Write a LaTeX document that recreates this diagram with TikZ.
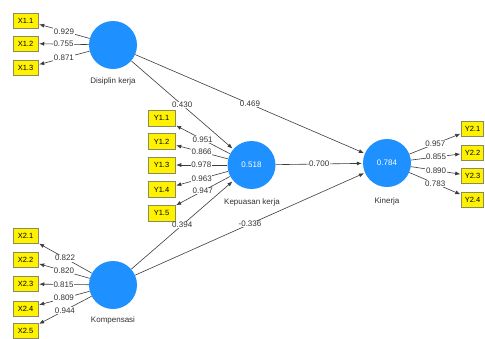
\documentclass[tikz,border=0pt]{standalone}
\usepackage{fontspec}
\setmainfont{Liberation Sans}
\usetikzlibrary{arrows.meta}
\definecolor{lvblue}{RGB}{30,144,255}
\definecolor{linegray}{RGB}{60,60,60}
\definecolor{boxborder}{RGB}{140,140,90}
\tikzset{
  lv/.style={circle,fill=lvblue,draw=none,minimum size=48pt,inner sep=0pt,text=white,font=\fontsize{8}{9}\selectfont},
  ind/.style={rectangle,fill=yellow,draw=boxborder,line width=0.5pt,minimum width=25pt,minimum height=15pt,inner sep=0pt,font=\fontsize{7.5}{9}\selectfont},
  indy/.style={ind,minimum width=27pt,minimum height=16pt},
  indz/.style={ind,minimum width=22pt},
  lvname/.style={font=\fontsize{8}{9}\selectfont,inner sep=1pt,text=black!80},
  arr/.style={draw=linegray,line width=0.6pt,-{Latex[length=5pt,width=4pt]},shorten >=1pt},
  wl/.style={fill=white,inner sep=0.6pt,font=\fontsize{8}{9}\selectfont,text=black!80,pos=0.5}
}
\begin{document}
\begin{tikzpicture}[x=1pt,y=-1pt]
\useasboundingbox[fill=white] (0,0) rectangle (485,338);
% latent variables
\node[lv] (dk) at (113,45) {};
\node[lv] (kk) at (251.5,165) {0.518};
\node[lv] (kn) at (387,163) {0.784};
\node[lv] (kp) at (113,285) {};
\node[lvname] (dkl) at (113,81) {Disiplin kerja};
\node[lvname] (kkl) at (252,202) {Kepuasan kerja};
\node[lvname] (knl) at (387,201) {Kinerja};
\node[lvname] (kpl) at (113,320) {Kompensasi};
% indicators
\node[ind] (x11) at (25.5,20.5) {X1.1};
\node[ind] (x12) at (25.5,43.5) {X1.2};
\node[ind] (x13) at (25.5,68) {X1.3};
\node[indy] (y11) at (161.5,118) {Y1.1};
\node[indy] (y12) at (161.5,141.5) {Y1.2};
\node[indy] (y13) at (161.5,165) {Y1.3};
\node[indy] (y14) at (161.5,189.5) {Y1.4};
\node[indy] (y15) at (161.5,213) {Y1.5};
\node[ind] (x21) at (25.5,236) {X2.1};
\node[ind] (x22) at (25.5,260) {X2.2};
\node[ind] (x23) at (25.5,284) {X2.3};
\node[ind] (x24) at (25.5,308.5) {X2.4};
\node[ind] (x25) at (25.5,331) {X2.5};
\node[indz] (y21) at (472.5,129) {Y2.1};
\node[indz] (y22) at (472.5,152.5) {Y2.2};
\node[indz] (y23) at (472.5,176) {Y2.3};
\node[indz] (y24) at (472.5,199.5) {Y2.4};
% loadings
\draw[arr] (dk) -- node[wl]{0.929} (x11);
\draw[arr] (dk) -- node[wl]{0.755} (x12);
\draw[arr] (dk) -- node[wl]{0.871} (x13);
\draw[arr] (kk) -- node[wl]{0.951} (y11);
\draw[arr] (kk) -- node[wl]{0.866} (y12);
\draw[arr] (kk) -- node[wl]{0.978} (y13);
\draw[arr] (kk) -- node[wl]{0.963} (y14);
\draw[arr] (kk) -- node[wl]{0.947} (y15);
\draw[arr] (kp) -- node[wl]{0.822} (x21);
\draw[arr] (kp) -- node[wl]{0.820} (x22);
\draw[arr] (kp) -- node[wl]{0.815} (x23);
\draw[arr] (kp) -- node[wl]{0.809} (x24);
\draw[arr] (kp) -- node[wl]{0.944} (x25);
\draw[arr] (kn) -- node[wl]{0.957} (y21);
\draw[arr] (kn) -- node[wl]{0.855} (y22);
\draw[arr] (kn) -- node[wl]{0.890} (y23);
\draw[arr] (kn) -- node[wl]{0.783} (y24);
% structural paths
\draw[arr] (dk) -- node[wl]{0.430} (kk);
\draw[arr] (dk) -- node[wl]{0.469} (kn);
\draw[arr] (kk) -- node[wl]{0.700} (kn);
\draw[arr] (kp) -- node[wl]{0.394} (kk);
\draw[arr] (kp) -- node[wl]{-0.336} (kn);
\end{tikzpicture}
\end{document}
